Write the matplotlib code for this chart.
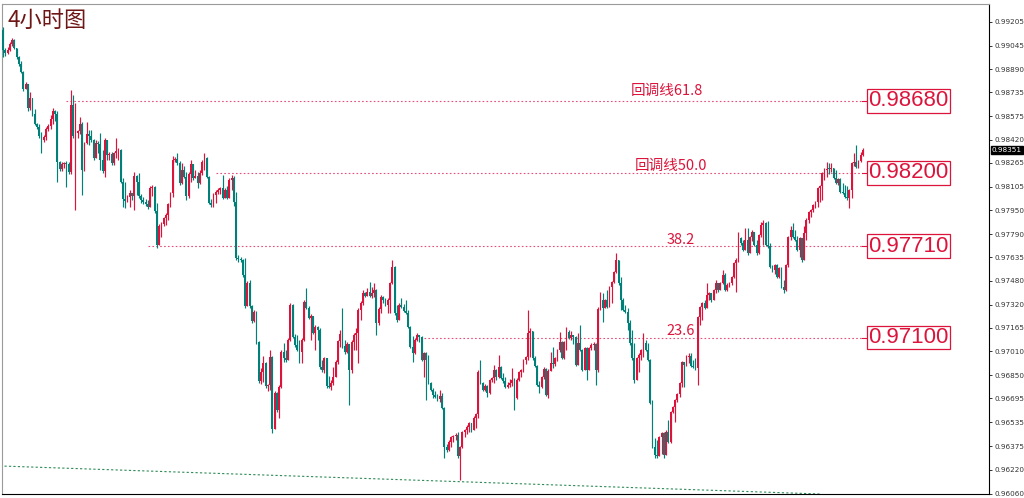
import matplotlib
matplotlib.use('Agg')
import matplotlib.pyplot as plt
import numpy as np
from matplotlib.transforms import blended_transform_factory

# ---------------- data (4H candles) ----------------
first_open = 0.99152
closes = [
    0.99018, 0.98998, 0.99018, 0.99059, 0.99085, 0.99032, 0.98972, 0.98925, 0.98872, 0.98758,
    0.98792, 0.98632, 0.98698, 0.98592, 0.98525, 0.98505, 0.98445, 0.98418, 0.98438, 0.98492,
    0.98512, 0.98558, 0.98612, 0.98592, 0.98271, 0.98225, 0.98258, 0.98265, 0.98258, 0.98205,
    0.98652, 0.98445, 0.98465, 0.98478, 0.98525, 0.98218, 0.98398, 0.98458, 0.98445, 0.98418,
    0.98298, 0.98398, 0.98392, 0.98285, 0.98211, 0.98418, 0.98318, 0.98325, 0.98265, 0.98331,
    0.98345, 0.98352, 0.98138, 0.98025, 0.98011, 0.98038, 0.98065, 0.98045, 0.98178, 0.98138,
    0.98045, 0.98018, 0.98005, 0.97991, 0.97971, 0.98098, 0.98105, 0.97945, 0.97718, 0.97845,
    0.97858, 0.97898, 0.97918, 0.97991, 0.98065, 0.98285, 0.98291, 0.98265, 0.98131, 0.98218,
    0.98171, 0.98045, 0.98191, 0.98258, 0.98165, 0.98178, 0.98131, 0.98198, 0.98271, 0.98298,
    0.98171, 0.97998, 0.97985, 0.98051, 0.98071, 0.98085, 0.98098, 0.98031, 0.98085, 0.98031,
    0.98151, 0.98165, 0.98005, 0.97631, 0.97624, 0.97618, 0.97518, 0.97311, 0.97464, 0.97311,
    0.97211, 0.97271, 0.97071, 0.96811, 0.96871, 0.96931, 0.96777, 0.96784, 0.96971, 0.96491,
    0.96731, 0.96617, 0.96771, 0.97004, 0.96964, 0.96951, 0.97084, 0.97318, 0.97104, 0.97051,
    0.97018, 0.97004, 0.97084, 0.97338, 0.97298, 0.97231, 0.97244, 0.97131, 0.97171, 0.97151,
    0.96904, 0.96884, 0.96964, 0.96777, 0.96771, 0.96797, 0.96837, 0.96937, 0.97078, 0.97124,
    0.97044, 0.97004, 0.97058, 0.96884, 0.97071, 0.97118, 0.97131, 0.97284, 0.97331, 0.97398,
    0.97378, 0.97404, 0.97378, 0.97398, 0.97418, 0.97198, 0.97291, 0.97371, 0.97351, 0.97318,
    0.97351, 0.97464, 0.97571, 0.97264, 0.97218, 0.97318, 0.97304, 0.97278, 0.97264, 0.97171,
    0.97038, 0.96998, 0.97084, 0.97118, 0.97104, 0.96951, 0.96998, 0.96951, 0.96797, 0.96751,
    0.96717, 0.96704, 0.96691, 0.96711, 0.96631, 0.96371, 0.96350, 0.96404, 0.96437, 0.96444,
    0.96451, 0.96310, 0.96371, 0.96471, 0.96484, 0.96504, 0.96531, 0.96484, 0.96564, 0.96591,
    0.96871, 0.96797, 0.96751, 0.96777, 0.96731, 0.96817, 0.96831, 0.96884, 0.96837, 0.96904,
    0.96831, 0.96811, 0.96771, 0.96784, 0.96797, 0.96817, 0.96697, 0.96817, 0.96871, 0.96884,
    0.96951, 0.96971, 0.97131, 0.97144, 0.96964, 0.96911, 0.96784, 0.96771, 0.96837, 0.96891,
    0.96717, 0.96877, 0.96931, 0.96924, 0.96964, 0.97018, 0.97071, 0.96964, 0.97071, 0.97138,
    0.97098, 0.97118, 0.97104, 0.96917, 0.97064, 0.97018, 0.96884, 0.97031, 0.96884, 0.97031,
    0.97051, 0.97058, 0.96884, 0.97291, 0.97351, 0.97298, 0.97351, 0.97304, 0.97438, 0.97471,
    0.97538, 0.97618, 0.97464, 0.97351, 0.97284, 0.97271, 0.97198, 0.97064, 0.96964, 0.96817,
    0.96964, 0.96984, 0.97018, 0.97064, 0.97018, 0.96951, 0.96664, 0.96371, 0.96317, 0.96310,
    0.96437, 0.96464, 0.96317, 0.96471, 0.96404, 0.96604, 0.96637, 0.96684, 0.96724, 0.96797,
    0.96937, 0.96917, 0.96971, 0.96978, 0.96911, 0.96904, 0.96897, 0.97238, 0.97304, 0.97331,
    0.97298, 0.97384, 0.97398, 0.97351, 0.97418, 0.97464, 0.97418, 0.97464, 0.97518, 0.97418,
    0.97451, 0.97464, 0.97504, 0.97598, 0.97618, 0.97765, 0.97731, 0.97685, 0.97751, 0.97664,
    0.97771, 0.97805, 0.97718, 0.97664, 0.97785, 0.97851, 0.97865, 0.97718, 0.97711, 0.97571,
    0.97551, 0.97584, 0.97504, 0.97564, 0.97438, 0.97418, 0.97584, 0.97771, 0.97818, 0.97771,
    0.97751, 0.97685, 0.97765, 0.97618, 0.97798, 0.97885, 0.97938, 0.97951, 0.97985, 0.98005,
    0.98098, 0.98111, 0.98198, 0.98218, 0.98225, 0.98225, 0.98231, 0.98165, 0.98131, 0.98158,
    0.98071, 0.98065, 0.98038, 0.98031, 0.98085, 0.98265, 0.98271, 0.98238, 0.98278, 0.98318, 0.98351,
]
highs = [
    0.99172, 0.99032, 0.99039, 0.99072, 0.99099, 0.99092, 0.99032, 0.98978, 0.98945, 0.98878,
    0.98805, 0.98785, 0.98738, 0.98698, 0.98625, 0.98532, 0.98525, 0.98472, 0.98452, 0.98505,
    0.98525, 0.98585, 0.98632, 0.98618, 0.98612, 0.98278, 0.98271, 0.98271, 0.98278, 0.98271,
    0.98752, 0.98718, 0.98665, 0.98485, 0.98572, 0.98538, 0.98405, 0.98538, 0.98485, 0.98485,
    0.98425, 0.98418, 0.98412, 0.98465, 0.98352, 0.98432, 0.98418, 0.98338, 0.98338, 0.98338,
    0.98432, 0.98365, 0.98358, 0.98165, 0.98138, 0.98051, 0.98085, 0.98065, 0.98205, 0.98185,
    0.98198, 0.98058, 0.98038, 0.98025, 0.98018, 0.98111, 0.98118, 0.98111, 0.97998, 0.97858,
    0.97871, 0.97905, 0.97931, 0.97998, 0.98071, 0.98311, 0.98305, 0.98331, 0.98278, 0.98265,
    0.98245, 0.98205, 0.98205, 0.98285, 0.98251, 0.98218, 0.98205, 0.98218, 0.98285, 0.98331,
    0.98305, 0.98178, 0.98025, 0.98065, 0.98085, 0.98098, 0.98105, 0.98185, 0.98098, 0.98111,
    0.98165, 0.98185, 0.98178, 0.98071, 0.97651, 0.97638, 0.97624, 0.97631, 0.97478, 0.97484,
    0.97318, 0.97284, 0.97278, 0.97078, 0.96897, 0.96978, 0.96937, 0.96791, 0.97018, 0.96978,
    0.96744, 0.96737, 0.96784, 0.97018, 0.97064, 0.97018, 0.97098, 0.97331, 0.97324, 0.97124,
    0.97118, 0.97084, 0.97098, 0.97351, 0.97431, 0.97311, 0.97258, 0.97244, 0.97184, 0.97178,
    0.97164, 0.96951, 0.96971, 0.96951, 0.96844, 0.96817, 0.96904, 0.96951, 0.97084, 0.97151,
    0.97298, 0.97084, 0.97071, 0.97044, 0.97084, 0.97131, 0.97164, 0.97298, 0.97344, 0.97418,
    0.97404, 0.97431, 0.97471, 0.97438, 0.97464, 0.97424, 0.97304, 0.97384, 0.97378, 0.97364,
    0.97364, 0.97471, 0.97618, 0.97578, 0.97318, 0.97331, 0.97364, 0.97324, 0.97351, 0.97284,
    0.97178, 0.97111, 0.97098, 0.97131, 0.97118, 0.97111, 0.97004, 0.97004, 0.96984, 0.96804,
    0.96764, 0.96744, 0.96724, 0.96751, 0.96731, 0.96637, 0.96391, 0.96417, 0.96444, 0.96451,
    0.96464, 0.96471, 0.96377, 0.96477, 0.96491, 0.96517, 0.96537, 0.96531, 0.96577, 0.96597,
    0.96884, 0.96951, 0.96804, 0.96791, 0.96784, 0.96824, 0.96837, 0.96917, 0.96891, 0.96984,
    0.96911, 0.96864, 0.96837, 0.96804, 0.96824, 0.96897, 0.96831, 0.96831, 0.96877, 0.96891,
    0.96958, 0.96978, 0.97284, 0.97164, 0.97144, 0.96978, 0.96917, 0.96811, 0.96844, 0.96904,
    0.96897, 0.96891, 0.97004, 0.97038, 0.96971, 0.97024, 0.97138, 0.97078, 0.97078, 0.97171,
    0.97151, 0.97144, 0.97111, 0.97111, 0.97131, 0.97184, 0.97024, 0.97038, 0.97038, 0.97038,
    0.97064, 0.97071, 0.97064, 0.97304, 0.97404, 0.97398, 0.97358, 0.97418, 0.97444, 0.97478,
    0.97544, 0.97664, 0.97618, 0.97504, 0.97364, 0.97318, 0.97298, 0.97218, 0.97151, 0.97064,
    0.96971, 0.96998, 0.97024, 0.97131, 0.97084, 0.97064, 0.96958, 0.96684, 0.96431, 0.96417,
    0.96444, 0.96471, 0.96471, 0.96484, 0.96551, 0.96611, 0.96644, 0.96691, 0.96731, 0.96804,
    0.96944, 0.96937, 0.96984, 0.96998, 0.96998, 0.96951, 0.96964, 0.97244, 0.97311, 0.97338,
    0.97351, 0.97464, 0.97404, 0.97391, 0.97424, 0.97484, 0.97464, 0.97471, 0.97551, 0.97531,
    0.97464, 0.97471, 0.97511, 0.97604, 0.97631, 0.97805, 0.97771, 0.97751, 0.97831, 0.97831,
    0.97778, 0.97818, 0.97798, 0.97751, 0.97791, 0.97871, 0.97885, 0.97871, 0.97878, 0.97731,
    0.97584, 0.97591, 0.97591, 0.97571, 0.97571, 0.97484, 0.97591, 0.97778, 0.97845, 0.97865,
    0.97818, 0.97778, 0.97771, 0.97765, 0.97845, 0.97898, 0.97945, 0.97958, 0.97991, 0.98011,
    0.98105, 0.98118, 0.98205, 0.98231, 0.98271, 0.98265, 0.98265, 0.98231, 0.98218, 0.98165,
    0.98165, 0.98131, 0.98118, 0.98111, 0.98091, 0.98271, 0.98331, 0.98385, 0.98285, 0.98338, 0.98365,
]
lows = [
    0.98972, 0.98978, 0.98992, 0.99012, 0.99045, 0.99025, 0.98958, 0.98912, 0.98865, 0.98745,
    0.98758, 0.98612, 0.98618, 0.98578, 0.98518, 0.98492, 0.98432, 0.98331, 0.98405, 0.98418,
    0.98478, 0.98492, 0.98525, 0.98545, 0.98138, 0.98211, 0.98211, 0.98231, 0.98105, 0.98191,
    0.98191, 0.98432, 0.97951, 0.98432, 0.98458, 0.98051, 0.98211, 0.98392, 0.98385, 0.98405,
    0.98285, 0.98298, 0.98331, 0.98218, 0.98198, 0.98171, 0.98285, 0.98285, 0.98251, 0.98251,
    0.98298, 0.98285, 0.98131, 0.97971, 0.97965, 0.98005, 0.97971, 0.98018, 0.97951, 0.98051,
    0.98031, 0.97998, 0.97991, 0.97978, 0.97958, 0.97971, 0.98045, 0.97931, 0.97698, 0.97738,
    0.97771, 0.97845, 0.97851, 0.97885, 0.97971, 0.98038, 0.98271, 0.98251, 0.98118, 0.98125,
    0.98165, 0.98018, 0.98031, 0.98138, 0.98151, 0.98165, 0.98098, 0.98125, 0.98185, 0.98218,
    0.98165, 0.97991, 0.97971, 0.97971, 0.97998, 0.98058, 0.98058, 0.98025, 0.98045, 0.98025,
    0.98031, 0.98085, 0.97978, 0.97618, 0.97604, 0.97604, 0.97504, 0.97298, 0.97311, 0.97298,
    0.97198, 0.97204, 0.97058, 0.96797, 0.96791, 0.96804, 0.96764, 0.96744, 0.96751, 0.96464,
    0.96497, 0.96604, 0.96564, 0.96764, 0.96937, 0.96937, 0.96991, 0.97078, 0.97098, 0.97038,
    0.97011, 0.96931, 0.96931, 0.97078, 0.97291, 0.97224, 0.97084, 0.97124, 0.97018, 0.97084,
    0.96891, 0.96871, 0.96864, 0.96764, 0.96764, 0.96751, 0.96784, 0.96857, 0.96924, 0.97038,
    0.97031, 0.96991, 0.96998, 0.96651, 0.96864, 0.97018, 0.97018, 0.96931, 0.97218, 0.97318,
    0.97371, 0.97378, 0.97371, 0.97364, 0.97371, 0.97118, 0.97184, 0.97264, 0.97331, 0.97311,
    0.97264, 0.97264, 0.97458, 0.97251, 0.97204, 0.97244, 0.97298, 0.97271, 0.97258, 0.97164,
    0.97031, 0.96937, 0.96991, 0.97078, 0.97071, 0.96944, 0.96837, 0.96684, 0.96791, 0.96744,
    0.96697, 0.96697, 0.96677, 0.96671, 0.96624, 0.96297, 0.96337, 0.96344, 0.96371, 0.96404,
    0.96417, 0.96297, 0.96150, 0.96364, 0.96437, 0.96457, 0.96471, 0.96471, 0.96517, 0.96497,
    0.96564, 0.96791, 0.96744, 0.96744, 0.96704, 0.96724, 0.96804, 0.96797, 0.96817, 0.96831,
    0.96824, 0.96797, 0.96764, 0.96764, 0.96771, 0.96777, 0.96617, 0.96691, 0.96811, 0.96837,
    0.96871, 0.96924, 0.96951, 0.96971, 0.96951, 0.96904, 0.96777, 0.96731, 0.96764, 0.96824,
    0.96711, 0.96697, 0.96877, 0.96897, 0.96911, 0.96944, 0.97004, 0.96958, 0.96958, 0.97018,
    0.97091, 0.97084, 0.97058, 0.96911, 0.97051, 0.97011, 0.96877, 0.96884, 0.96817, 0.96951,
    0.97018, 0.97018, 0.96784, 0.96871, 0.97284, 0.97204, 0.97298, 0.97298, 0.97304, 0.97331,
    0.97464, 0.97531, 0.97451, 0.97284, 0.97278, 0.97264, 0.97151, 0.97051, 0.96951, 0.96797,
    0.96817, 0.96871, 0.96951, 0.96971, 0.97011, 0.96944, 0.96657, 0.96364, 0.96297, 0.96297,
    0.96310, 0.96324, 0.96297, 0.96330, 0.96397, 0.96397, 0.96597, 0.96537, 0.96671, 0.96704,
    0.96771, 0.96771, 0.96911, 0.96931, 0.96904, 0.96897, 0.96884, 0.96784, 0.97184, 0.97218,
    0.97291, 0.97298, 0.97351, 0.97338, 0.97351, 0.97398, 0.97404, 0.97418, 0.97458, 0.97411,
    0.97411, 0.97438, 0.97451, 0.97498, 0.97404, 0.97604, 0.97718, 0.97678, 0.97718, 0.97651,
    0.97664, 0.97745, 0.97711, 0.97651, 0.97658, 0.97771, 0.97718, 0.97711, 0.97698, 0.97564,
    0.97538, 0.97524, 0.97498, 0.97498, 0.97431, 0.97398, 0.97411, 0.97571, 0.97751, 0.97765,
    0.97745, 0.97678, 0.97638, 0.97604, 0.97751, 0.97751, 0.97865, 0.97905, 0.97938, 0.97965,
    0.97971, 0.98005, 0.98018, 0.98151, 0.98171, 0.98191, 0.98205, 0.98158, 0.98125, 0.98118,
    0.98065, 0.98058, 0.98031, 0.98018, 0.97965, 0.98031, 0.98245, 0.98231, 0.98231, 0.98271, 0.98311,
]

# retracement levels
fib_levels = [0.98680, 0.98200, 0.97710, 0.97100]
fib_names = ['回调线61.8', '回调线50.0', '38.2', '23.6']
fib_box_text = ['0.98680', '0.98200', '0.97710', '0.97100']

# price axis labels
price_ticks = [0.99205, 0.99045, 0.98890, 0.98735, 0.98575, 0.98420, 0.98265,
               0.98105, 0.97950, 0.97790, 0.97635, 0.97480, 0.97320, 0.97165,
               0.97010, 0.96850, 0.96695, 0.96535, 0.96375, 0.96220, 0.96060]
current_price = 0.98351

# trend line (price values at two bars)
trend_bars = [-1.3, 361]
trend_prices = [0.96244, 0.96057]

title = '4小时图'

# ---------------- layout / style ----------------
UP = '#DC143C'
DOWN = '#008079'
FIB = '#DC143C'
FIB_LINE = '#E4507A'
CJK = ['Noto Sans CJK SC', 'DejaVu Sans']

fib_start = [28, 94, 64, 186]        # bar where each dotted line starts
fib_label_end = [309.3, 311.0, 305.8, 305.8]
fib_label_off = [4.0, 2.2, 1.6, 1.6]  # points above line
line_end = 379.5
box_x = 382.3

W, H = 1024, 498
fig = plt.figure(figsize=(W / 100, H / 100), dpi=100)
fig.patch.set_facecolor('white')
ax = fig.add_axes([2 / W, 4 / H, 987 / W, 490 / H])
ax.set_facecolor('white')

n = len(closes)
x = np.arange(n)
c = np.array(closes)
o = np.array([first_open] + closes[:-1])
hi = np.maximum(np.array(highs), np.maximum(o, c))
lo = np.minimum(np.array(lows), np.minimum(o, c))
up = c > o
cols = np.where(up, UP, DOWN)

ax.vlines(x, lo, hi, colors=cols, linewidth=0.85, zorder=3)
body_h = np.maximum(np.abs(c - o), 0.00005)
ax.bar(x, body_h, bottom=np.minimum(o, c), width=0.8, color=cols,
       linewidth=0, zorder=4)

# trend line
ax.plot(trend_bars, trend_prices, color='#2E8B57', lw=0.8,
        ls=(0, (2, 2)), zorder=2)

# retracement lines, labels and boxes
for lv, nm, bt, xs, xe, off in zip(fib_levels, fib_names, fib_box_text,
                                   fib_start, fib_label_end, fib_label_off):
    ax.plot([xs, line_end], [lv, lv], color=FIB_LINE, lw=0.8,
            ls=(0, (1.5, 2.0)), zorder=2)
    ax.plot([line_end, box_x], [lv, lv], color=FIB, lw=0.8, zorder=2)
    ax.annotate(nm, xy=(xe, lv), xytext=(0, off), textcoords='offset points',
                ha='right', va='baseline', fontsize=10.5, color=FIB,
                family=CJK, zorder=6)
    ax.text(box_x, lv, bt, ha='left', va='center', fontsize=16,
            family='Liberation Sans', color=FIB, zorder=7,
            bbox=dict(boxstyle='square,pad=0.06', fc='white', ec=FIB, lw=0.9))

ax.set_xlim(-0.44, 435.7)
ax.set_ylim(0.96057, 0.99325)

# axes frame
for s in ['left', 'top']:
    ax.spines[s].set_color('#9a9a9a')
    ax.spines[s].set_linewidth(0.8)
for s in ['right', 'bottom']:
    ax.spines[s].set_color('black')
    ax.spines[s].set_linewidth(0.8)

ax.set_xticks([])
ax.yaxis.tick_right()
ax.set_yticks(price_ticks)
ax.set_yticklabels(['%.5f' % t for t in price_ticks])
ax.tick_params(axis='y', direction='out', length=2.5, width=0.7,
               labelsize=5.2, pad=1.5, colors='#333333')

# current price tag
tr = blended_transform_factory(ax.transAxes, ax.transData)
ax.text(1.003, current_price, '%.5f' % current_price, transform=tr,
        ha='left', va='center', fontsize=5.2, color='white', zorder=10,
        clip_on=False,
        bbox=dict(boxstyle='square,pad=0.18', fc='black', ec='black'))

# title
fig.text(8 / W, 1 - 9 / H, title, ha='left', va='top', fontsize=16,
         color='#6E1515', family=CJK)

fig.savefig('out.png', dpi=100, facecolor='white')
